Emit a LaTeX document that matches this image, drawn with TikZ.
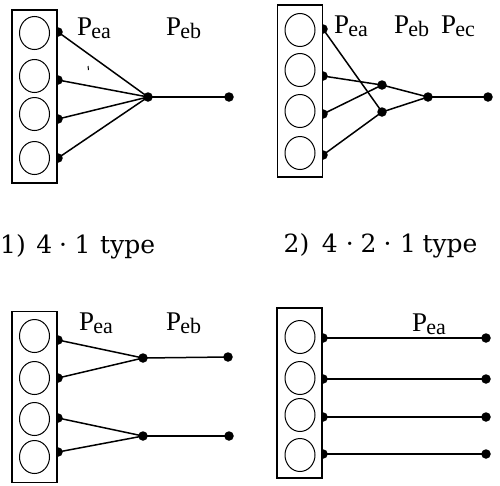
\documentclass[tikz,border=0pt]{standalone}
\usepackage{fontspec}
\setmainfont{Liberation Serif}
\newfontfamily\labfont{Liberation Serif}
\newfontfamily\capfont{DejaVu Serif}
\usetikzlibrary{shapes.geometric}
\newcommand\plab[1]{{\labfont\fontsize{27}{27}\selectfont P}\kern-0.8pt\raisebox{-3.5pt}{\labfont\fontsize{22}{22}\selectfont #1}}
\tikzset{
  frame/.style={draw, fill=white, line width=1.8pt, minimum width=45pt, inner sep=0pt},
  cell/.style={draw, ellipse, line width=1pt, minimum width=30pt, minimum height=33pt, inner sep=0pt},
  dot/.style={circle, fill, inner sep=0pt, minimum size=9.5pt},
  wire/.style={line width=1.5pt},
  lab/.style={anchor=base west, inner sep=0pt},
  captxt/.style={anchor=base west, inner sep=0pt, font=\capfont\fontsize{25}{25}\selectfont}
}
\begin{document}
\begin{tikzpicture}[x=1pt,y=-1pt]
\useasboundingbox (0,0) rectangle (500,485);
% ---------- panel 1: 4-1 type
\foreach \i/\y in {1/32,2/80,3/119,4/158}{\node[dot] (d1\i) at (58,\y) {};}
\node[dot] (j1) at (148,97) {};
\node[dot] (e1) at (229,97) {};
\foreach \i in {1,2,3,4}{\draw[wire] (d1\i.center) -- (j1.center);}
\draw[wire] (j1.center) -- (e1.center);
\node[frame, minimum height=173pt] (b1) at (34.5,96.5) {};
\foreach \i/\y in {1/33,2/76,3/114,4/158}{\node[cell] (c1\i) at (34.5,\y) {};}
\coordinate (t1) at (88,66); \coordinate (t2) at (88.5,70);
\draw[line width=1pt] (t1) -- (t2);
\node[lab] (l1a) at (77,35) {\plab{ea}};
\node[lab] (l1b) at (166,35) {\plab{eb}};
% ---------- panel 2: 4-2-1 type
\foreach \i/\y in {1/29,2/76,3/114,4/155}{\node[dot] (d2\i) at (323,\y) {};}
\node[dot] (m2a) at (382,85) {};
\node[dot] (m2b) at (382,112) {};
\node[dot] (j2) at (428,97) {};
\node[dot] (e2) at (488,97) {};
\draw[wire] (d21.center) -- (m2b.center);
\draw[wire] (d22.center) -- (m2a.center);
\draw[wire] (d23.center) -- (m2a.center);
\draw[wire] (d24.center) -- (m2b.center);
\draw[wire] (m2a.center) -- (j2.center);
\draw[wire] (m2b.center) -- (j2.center);
\draw[wire] (j2.center) -- (e2.center);
\node[frame, minimum height=172pt] (b2) at (300,91) {};
\foreach \i/\y in {1/30,2/70,3/111,4/153}{\node[cell] (c2\i) at (300,\y) {};}
\node[lab] (l2a) at (334,33) {\plab{ea}};
\node[lab] (l2b) at (394,33) {\plab{eb}};
\node[lab] (l2c) at (441,33) {\plab{ec}};
% ---------- captions
\node[captxt] (cap1) at (0,253) {1)\hspace{10.5pt}4\hspace{7pt}·\hspace{7.5pt}1\hspace{9.6pt}type};
\node[captxt] (cap2) at (283.5,252) {2)\hspace{12.5pt}4\hspace{8pt}·\hspace{7pt}2\hspace{7pt}·\hspace{8.5pt}1\hspace{6.6pt}type};
% ---------- panel 3
\foreach \i/\y in {1/340,2/378,3/418,4/452}{\node[dot] (d3\i) at (58,\y) {};}
\node[dot] (m3a) at (143,358) {};
\node[dot] (m3b) at (143,436) {};
\node[dot] (e3a) at (228,357) {};
\node[dot] (e3b) at (229,436) {};
\draw[wire] (d31.center) -- (m3a.center);
\draw[wire] (d32.center) -- (m3a.center);
\draw[wire] (d33.center) -- (m3b.center);
\draw[wire] (d34.center) -- (m3b.center);
\draw[wire] (m3a.center) -- (e3a.center);
\draw[wire] (m3b.center) -- (e3b.center);
\node[frame, minimum height=171pt] (b3) at (34.5,397) {};
\foreach \i/\y in {1/336,2/378,3/419,4/457}{\node[cell] (c3\i) at (34.5,\y) {};}
\node[lab] (l3a) at (79,330) {\plab{ea}};
\node[lab] (l3b) at (166,330) {\plab{eb}};
% ---------- panel 4
\foreach \i/\y in {1/338,2/379,3/417,4/454}{
  \node[dot] (d4\i) at (323,\y) {};
  \node[dot] (e4\i) at (486,\y) {};
  \draw[wire] (d4\i.center) -- (e4\i.center);
}
\node[frame, minimum height=170pt] (b4) at (299.5,393) {};
\foreach \i/\y in {1/337,2/378,3/415,4/455}{\node[cell] (c4\i) at (300,\y) {};}
\node[lab] (l4a) at (412,331) {\plab{ea}};
\end{tikzpicture}
\end{document}
